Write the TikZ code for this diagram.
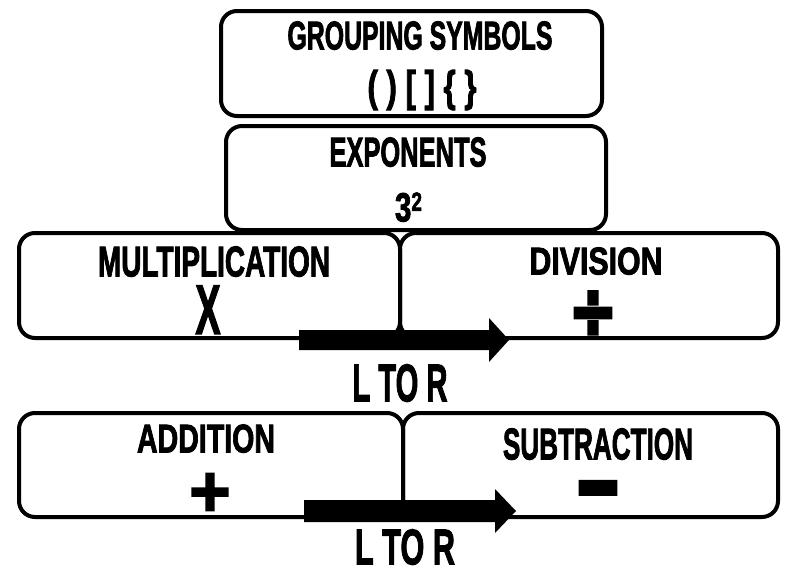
\documentclass[tikz,border=0pt]{standalone}
\usepackage{fontspec}
\usepackage{graphicx}
\newfontfamily\kgfont[FakeBold=2.4]{Liberation Sans}
\newfontfamily\symfont[FakeBold=5]{DejaVu Sans}
\newcommand\fittext[3]{\resizebox{#1pt}{#2pt}{\kgfont\bfseries #3}}
\newcommand\fitsym[3]{\resizebox*{#1pt}{#2pt}{\symfont\bfseries #3}}
\begin{document}
\begin{tikzpicture}[x=1pt,y=-1pt,
  box/.style={draw=black, line width=4pt, rounded corners=16pt, inner sep=0pt},
  lbl/.style={inner sep=0pt, anchor=south},
  sym/.style={inner sep=0pt, anchor=center},
  blockarrow/.style={fill=black}]
\fill[white] (0,0) rectangle (785,573);
\useasboundingbox (0,0) rectangle (785,573);
% boxes
\node[box, minimum width=381pt, minimum height=105pt] (grp) at (411.5,63.5) {};
\node[box, minimum width=380pt, minimum height=104pt] (exp) at (416,178) {};
\node[box, minimum width=381pt, minimum height=105pt] (mul) at (209.5,285.5) {};
\node[box, minimum width=378pt, minimum height=105pt] (div) at (589,285.5) {};
\node[box, minimum width=384pt, minimum height=104pt] (add) at (211,465) {};
\node[box, minimum width=375pt, minimum height=104pt] (sub) at (590.5,465) {};
% arrows
\coordinate (a1s) at (299,340);
\coordinate (a1e) at (509,340);
\coordinate (a2s) at (304,511);
\coordinate (a2e) at (516,511);
\fill[blockarrow] ([shift={(0,-10)}]a1s) -- ++(190,0) -- ++(0,-12) -- (a1e) -- ++(-20,22) -- ++(0,-12) -- ([shift={(0,10)}]a1s) -- cycle;
\fill[blockarrow] ([shift={(0,-11)}]a2s) -- ++(191,0) -- ++(0,-11) -- (a2e) -- ++(-21,22) -- ++(0,-11) -- ([shift={(0,11)}]a2s) -- cycle;
% texts
\node[lbl] (tg) at (420,50) {\fittext{265}{28}{GROUPING SYMBOLS}};
\node[sym] (tb) at (422,90) {\resizebox*{109pt}{40pt}{\kgfont\bfseries ( ) [ ] \{ \}}};
\node[lbl] (te) at (408,167) {\fittext{157}{29}{EXPONENTS}};
\node[lbl] (tp) at (408.5,222) {\resizebox{27pt}{29pt}{\kgfont\bfseries 3\raisebox{2.6pt}{\fontsize{6.5}{7}\selectfont 2}}};
\node[lbl] (tm) at (214,277) {\fittext{232}{30}{MULTIPLICATION}};
\node[lbl] (tx) at (208,334) {\fittext{25}{48}{X}};
\node[lbl] (tdv) at (596,275) {\fittext{133}{27}{DIVISION}};
\node[sym] (sdv) at (593,314.5) {\fitsym{48}{45}{÷}};
\node[lbl] (tl1) at (400,402) {\fittext{95}{37}{L TO R}};
\node[lbl] (tad) at (206,453) {\fittext{138}{28}{ADDITION}};
\node[sym] (sad) at (210,492) {\fitsym{46}{36}{+}};
\node[lbl] (tsb) at (598,460) {\fittext{190}{31}{SUBTRACTION}};
\node[inner sep=0pt, anchor=north] (ssb) at (598,482) {\fitsym{48}{36}{−}};
\node[lbl] (tl2) at (405,565) {\fittext{100}{35}{L TO R}};
\end{tikzpicture}
\end{document}
